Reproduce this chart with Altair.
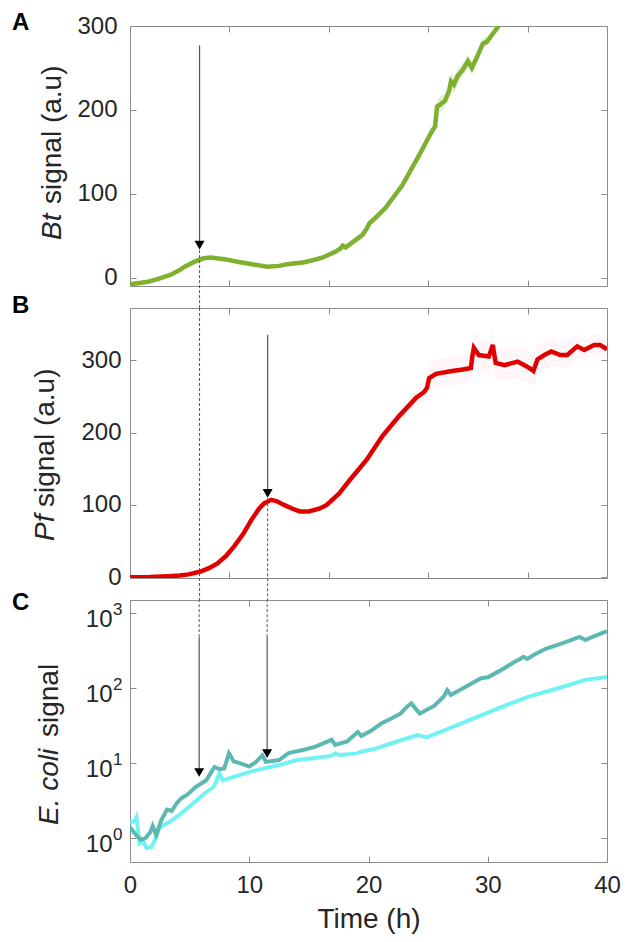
import altair as alt
import pandas as pd

# ---------------- data ----------------
# Panel A : Bt signal (a.u)
t_bt = [0, 1.8, 3.0, 4.2, 5.0, 5.5, 6.5, 7.4, 8.1, 9.5,
        10.8, 12.3, 13.8, 15.0, 15.8, 17.4, 18.5, 19.4, 20.7, 21.2,
        21.4, 21.7, 22.5, 23.4, 23.8, 24.1, 24.6, 25.7, 27.4, 29.1,
        30.4, 30.7, 30.9, 31.3, 31.7, 32.1, 32.3, 32.6, 33.0, 33.5,
        34.0, 34.4, 35.0, 35.5, 35.9, 36.4, 37.1]
bt = [-8, -5, -1, 4, 9, 13, 19, 23, 24, 22,
      19, 16, 13, 14, 16, 18, 21, 24, 31, 35,
      38, 36, 43, 51, 58, 65, 70, 83, 110, 146,
      175, 180, 204, 207, 211, 222, 234, 230, 241, 248,
      258, 250, 265, 279, 281, 289, 300]
bt_sd = [1, 1, 1, 1, 1, 1, 1.5, 1.5, 1.5, 1.5,
         1.5, 1.5, 1.5, 1.5, 2, 2, 2, 2, 3, 3,
         4, 4, 4, 4, 5, 5, 4, 4, 4, 5,
         5, 6, 8, 10, 8, 8, 9, 10, 9, 8,
         8, 8, 6, 6, 5, 5, 5]

# Panel B : Pf signal (a.u)
t_pf = [0, 2, 3.9, 5.0, 5.9, 7.1, 8.0, 8.8, 9.7, 10.5,
        11.4, 12.2, 13.0, 13.5, 14.2, 14.8, 15.5, 16.3, 17.1, 18.0,
        19.1, 19.8, 21.0, 22.1, 23.8, 25.4, 27.1, 28.8, 29.6, 29.9,
        30.1, 30.8, 32.4, 33.5, 34.3, 34.45, 34.6, 35.1, 36.1, 36.3,
        36.5, 36.8, 37.7, 39.0, 39.7, 40.2, 40.6, 41.0, 41.7, 42.4,
        43.3, 44.0, 45.0, 45.7, 46.7, 47.3, 48.0]
pf = [0, 0.3, 1.5, 2.5, 4, 8, 13, 19, 30, 43,
      60, 79, 95, 102, 107, 105, 100, 95, 91, 91,
      95, 100, 115, 134, 162, 195, 223, 248, 256, 262,
      275, 281, 285, 287, 289, 305, 317, 307, 305, 312,
      321, 296, 293, 298, 293, 289, 285, 301, 307, 312,
      307, 307, 319, 314, 321, 321, 315]
pf_sd = [0.3, 0.3, 0.5, 0.5, 0.5, 1, 1, 1, 1.5, 1.5,
         2, 2, 2, 2, 2, 2, 2, 2, 2, 2,
         3, 3, 4, 5, 6, 8, 10, 12, 14, 15,
         18, 20, 20, 20, 20, 22, 22, 22, 22, 22,
         22, 22, 22, 22, 22, 22, 22, 20, 20, 20,
         18, 18, 16, 16, 15, 15, 15]

# Panel C : E. coli signal (two series, log scale)
t_ec1 = [0, 0.5, 0.9, 1.3, 1.7, 1.9, 2.2, 2.6, 3.1, 3.5,
         3.9, 4.3, 4.8, 5.5, 6.4, 6.9, 7.1, 7.5, 7.9, 8.3,
         8.7, 9.2, 10.0, 10.6, 11.1, 11.4, 12.5, 13.3, 14.5, 15.5,
         16.6, 16.9, 17.2, 18.2, 19.1, 19.4, 20.2, 21.1, 22.0, 22.7,
         23.3, 23.6, 24.0, 24.3, 25.5, 26.3, 26.6, 26.9, 28.2, 29.4,
         30.0, 31.0, 32.2, 32.7, 33.0, 33.3, 34.0, 34.9, 36.3, 37.7,
         38.2, 39.0, 40.0]
ec1 = [1.4, 1.1, 0.95, 1.0, 1.2, 1.45, 1.1, 1.7, 2.4, 2.3,
       2.9, 3.4, 3.8, 4.8, 5.9, 8.0, 8.9, 8.3, 8.5, 13.5,
       10.5, 10.0, 9.0, 10.5, 12.7, 10.4, 11.0, 13.6, 15.0, 16.5,
       19.5, 20.5, 17.5, 19.5, 26, 23, 27, 34, 40, 46,
       58, 63, 52, 46, 58, 77, 94, 81, 105, 135,
       140, 170, 222, 245, 262, 245, 285, 338, 400, 483,
       440, 500, 575]
t_ec2 = [0, 0.4, 0.55, 0.8, 1.1, 1.4, 1.8, 2.1, 2.5, 3.2,
         3.9, 4.8, 5.6, 6.3, 7.0, 7.3, 7.5, 7.8, 8.5, 10.0,
         11.2, 12.5, 13.9, 15.5, 16.9, 17.2, 17.6, 19.0, 19.4, 20.5,
         22.2, 24.1, 24.9, 26.0, 27.8, 30.5, 33.3, 36.1, 38.2, 40.0]
ec2 = [1.6, 1.7, 1.9, 0.85, 0.9, 0.74, 0.76, 0.95, 1.4, 1.6,
       1.9, 2.5, 3.2, 4.0, 4.8, 6.0, 7.3, 5.9, 6.4, 7.6,
       8.5, 9.4, 10.9, 11.7, 12.5, 13.5, 12.8, 13.5, 14.2, 15.5,
       19, 23.6, 22, 26, 34, 51, 76, 102, 129, 141]

# arrows (time positions on each panel's own time axis, and signal levels)
arrow_t_ab = [7.0, 13.85]
arrow_t_c = [5.8, 11.5]
arrow_top_a, arrow_head_a = 277, 38.7
arrow_top_b, arrow_head_b = 335, 116
arrow_top_c, arrow_head_c = 479, [7.5, 13.4]

x_ticks_ab = [10, 20, 30, 40]
x_ticks_c = [0, 10, 20, 30, 40]
y_ticks_a = [0, 100, 200, 300]
y_ticks_b = [0, 100, 200, 300]
y_ticks_c = [1, 10, 100, 1000]
exponents_c = ["0", "1", "2", "3"]

# ---------------- style ----------------
W = 477
HA, HB, HC = 260, 270, 262
S = 22
FONT = "Liberation Sans"
GRAY = "#8c8c8c"
TXT = "#262626"
GREEN = "#7fb030"
RED = "#e00000"
TEAL = "#5cb8b0"
CYAN = "#72f2f2"
ARROW = "#555555"


def inner(orient, offset, vals):
    return alt.Axis(orient=orient, offset=offset, values=vals, labels=False,
                    domain=False, ticks=True, tickSize=6, tickColor=GRAY,
                    tickWidth=1, grid=False, title=None)


def main_y(vals, pad, **kw):
    return alt.Axis(orient="left", values=vals, ticks=False, tickSize=0,
                    domain=False, grid=False, labelPadding=pad,
                    labelFontSize=24, labelFont=FONT, labelColor=TXT,
                    title=None, **kw)


def text_layer(s, x, y, size=28, style="normal", weight="normal", angle=0,
               baseline="alphabetic"):
    return alt.Chart(pd.DataFrame({"s": [s]})).mark_text(
        font=FONT, fontSize=size, fontStyle=style, fontWeight=weight,
        angle=angle, align="left", baseline=baseline,
        color=TXT if weight == "normal" else "black"
    ).encode(text="s:N", x=alt.value(x), y=alt.value(y))


def arrows(tvals, tops, heads, xs, ys, H, xt, yt):
    df = pd.DataFrame({"t": tvals, "top": tops, "head": heads})
    solid = alt.Chart(df).mark_rule(color=ARROW, strokeWidth=1.2).encode(
        x=alt.X("t:Q", scale=xs, axis=inner("bottom", -H, xt)),
        y=alt.Y("top:Q", scale=ys, axis=inner("left", -W, yt)),
        y2="head:Q")
    head = alt.Chart(df).mark_point(shape="triangle-down", filled=True, size=100,
                                    color="black", opacity=1).encode(
        x=alt.X("t:Q", scale=xs, axis=None),
        y=alt.Y("head:Q", scale=ys, axis=None))
    return solid, head


def dashes(tvals, fromvals, to_px, xs, ys):
    df = pd.DataFrame({"t": tvals, "f": fromvals})
    return alt.Chart(df).mark_rule(color=ARROW, strokeWidth=1, strokeDash=[3, 2]).encode(
        x=alt.X("t:Q", scale=xs, axis=None),
        y=alt.Y("f:Q", scale=ys, axis=None),
        y2=alt.value(to_px))


# ---------------- panel A ----------------
xsA = alt.Scale(domain=[0, 48], nice=False, zero=False)
ysA = alt.Scale(domain=[-10, 300], nice=False, zero=False)
dfA = pd.DataFrame({"t": t_bt, "v": bt,
                    "lo": [v - s for v, s in zip(bt, bt_sd)],
                    "hi": [v + s for v, s in zip(bt, bt_sd)]})
bandA = alt.Chart(dfA).mark_area(color="#d6ebcb", opacity=0.7, clip=True).encode(
    x=alt.X("t:Q", scale=xsA, axis=inner("top", -HA, x_ticks_ab)),
    y=alt.Y("lo:Q", scale=ysA, axis=inner("right", -W, y_ticks_a)),
    y2="hi:Q")
lineA = alt.Chart(dfA).mark_line(color=GREEN, strokeWidth=4.5, clip=True).encode(
    x=alt.X("t:Q", scale=xsA, axis=None),
    y=alt.Y("v:Q", scale=ysA, axis=main_y(y_ticks_a, 13)))
solA, headA = arrows([arrow_t_ab[0]], [arrow_top_a], [arrow_head_a], xsA, ysA, HA,
                     x_ticks_ab, y_ticks_a)
dashA = dashes([arrow_t_ab[0]], [arrow_head_a], HA + S, xsA, ysA)
panelA = alt.layer(
    bandA, lineA, solA, dashA, headA,
    text_layer("A", -118, -15, size=24, weight="bold", baseline="top"),
    text_layer("Bt", -69, 214, style="italic", angle=270),
    text_layer("signal (a.u)", -69, 178, angle=270),
).resolve_axis(x="independent", y="independent").properties(width=W, height=HA)

# ---------------- panel B ----------------
xsB = alt.Scale(domain=[0, 48], nice=False, zero=False)
ysB = alt.Scale(domain=[-1, 372], nice=False, zero=False)
dfB = pd.DataFrame({"t": t_pf, "v": pf,
                    "lo": [v - s for v, s in zip(pf, pf_sd)],
                    "hi": [v + s for v, s in zip(pf, pf_sd)]})
bandB = alt.Chart(dfB).mark_area(color="#fde6ee", opacity=0.35, clip=True).encode(
    x=alt.X("t:Q", scale=xsB, axis=inner("top", -HB, x_ticks_ab)),
    y=alt.Y("lo:Q", scale=ysB, axis=inner("right", -W, y_ticks_b)),
    y2="hi:Q")
lineB = alt.Chart(dfB).mark_line(color=RED, strokeWidth=4.5, clip=True).encode(
    x=alt.X("t:Q", scale=xsB, axis=None),
    y=alt.Y("v:Q", scale=ysB, axis=main_y(y_ticks_b, 9)))
solB, headB = arrows([arrow_t_ab[1]], [arrow_top_b], [arrow_head_b], xsB, ysB, HB,
                     x_ticks_ab, y_ticks_b)
dashB = dashes(arrow_t_ab, [372, arrow_head_b], HB + S, xsB, ysB)
panelB = alt.layer(
    bandB, lineB, solB, dashB, headB,
    text_layer("B", -118, -14, size=24, weight="bold", baseline="top"),
    text_layer("Pf", -76, 233, style="italic", angle=270),
    text_layer("signal (a.u)", -76, 199, angle=270),
).resolve_axis(x="independent", y="independent").properties(width=W, height=HB)

# ---------------- panel C ----------------
xsC = alt.Scale(domain=[0, 40], nice=False, zero=False)
ysC = alt.Scale(type="log", domain=[0.48, 1500], nice=False)
dfC1 = pd.DataFrame({"t": t_ec1, "v": ec1})
dfC2 = pd.DataFrame({"t": t_ec2, "v": ec2})
lineC2 = alt.Chart(dfC2).mark_line(color=CYAN, strokeWidth=4, clip=True).encode(
    x=alt.X("t:Q", scale=xsC, axis=inner("top", -HC, x_ticks_c)),
    y=alt.Y("v:Q", scale=ysC, axis=inner("right", -W, y_ticks_c)))
lineC1 = alt.Chart(dfC1).mark_line(color=TEAL, strokeWidth=4, clip=True).encode(
    x=alt.X("t:Q", scale=xsC, axis=alt.Axis(
        orient="bottom", values=x_ticks_c, ticks=False, tickSize=0, domain=False,
        grid=False, labelFont=FONT, labelFontSize=24, labelColor=TXT,
        labelPadding=11, labelFlush=False, title="Time (h)", titleFont=FONT,
        titleFontSize=28, titleFontWeight="normal", titleColor=TXT, titlePadding=8)),
    y=alt.Y("v:Q", scale=ysC, axis=main_y(y_ticks_c, 18, labelExpr="'10'", labelOffset=6)))
solC, headC = arrows(arrow_t_c, [arrow_top_c, arrow_top_c], arrow_head_c, xsC, ysC, HC,
                     x_ticks_c, y_ticks_c)
dashC = dashes(arrow_t_c, [arrow_top_c, arrow_top_c], 0, xsC, ysC)
supC = alt.Chart(pd.DataFrame({"v": y_ticks_c, "e": exponents_c})).mark_text(
    font=FONT, fontSize=17, align="left", baseline="middle", dy=-3, color=TXT
).encode(y=alt.Y("v:Q", scale=ysC, axis=None), x=alt.value(-17), text="e:N")
panelC = alt.layer(
    lineC2, lineC1, solC, dashC, headC, supC,
    text_layer("C", -118, -9, size=24, weight="bold", baseline="top"),
    text_layer("E. coli", -72, 225, style="italic", angle=270),
    text_layer("signal", -72, 137, angle=270),
).resolve_axis(x="independent", y="independent").properties(width=W, height=HC)

chart = alt.vconcat(panelA, panelB, panelC, spacing=S, bounds="flush").configure_view(
    stroke=GRAY, strokeWidth=1
).properties(padding={"left": 3, "top": 2, "right": 0, "bottom": 0}, background="white")

chart.save("out.html", embed_options={"renderer": "svg", "actions": False})
